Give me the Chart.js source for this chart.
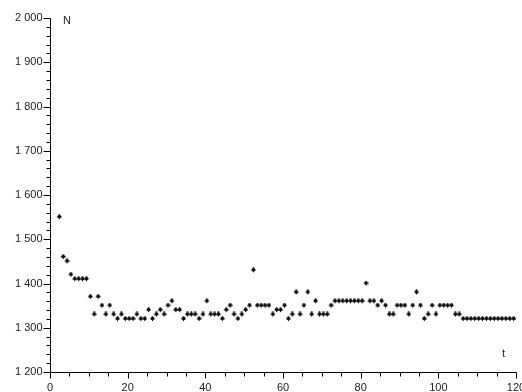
<!DOCTYPE html>
<html lang="en">
<head>
  <meta charset="UTF-8">
  <title>N over t</title>
  <script src="https://cdn.jsdelivr.net/npm/chart.js"></script>
  <style>
    html, body { margin: 0; padding: 0; background: #fff; }
    #wrap { width: 522px; height: 392px; }
  </style>
</head>
<body>
  <div id="wrap"><canvas id="nChart" width="522" height="392"></canvas></div>

  <script>
    // t runs 2..120, one reading per step
    const tValues = [];
    for (let t = 2; t <= 120; t++) tValues.push(t);

    const nValues = [
      1550, 1460, 1450, 1420, 1410, 1410, 1410, 1410, 1370, 1330,
      1370, 1350, 1330, 1350, 1330, 1320, 1330, 1320, 1320, 1320,
      1330, 1320, 1320, 1340, 1320, 1330, 1340, 1330, 1350, 1360,
      1340, 1340, 1320, 1330, 1330, 1330, 1320, 1330, 1360, 1330,
      1330, 1330, 1320, 1340, 1350, 1330, 1320, 1330, 1340, 1350,
      1430, 1350, 1350, 1350, 1350, 1330, 1340, 1340, 1350, 1320,
      1330, 1380, 1330, 1350, 1380, 1330, 1360, 1330, 1330, 1330,
      1350, 1360, 1360, 1360, 1360, 1360, 1360, 1360, 1360, 1400,
      1360, 1360, 1350, 1360, 1350, 1330, 1330, 1350, 1350, 1350,
      1330, 1350, 1380, 1350, 1320, 1330, 1350, 1330, 1350, 1350,
      1350, 1350, 1330, 1330, 1320, 1320, 1320, 1320, 1320, 1320,
      1320, 1320, 1320, 1320, 1320, 1320, 1320, 1320, 1320
    ];

    const xMajorTicks = [0, 20, 40, 60, 80, 100, 120];
    const yMajorTicks = [1200, 1300, 1400, 1500, 1600, 1700, 1800, 1900, 2000];
    const xMinorStep = 5;
    const yMinorStep = 20;

    // little club-shaped marker like the original plot
    const marker = document.createElement('canvas');
    marker.width = 8; marker.height = 6;
    (function () {
      const c = marker.getContext('2d');
      c.fillStyle = '#000';
      const cx = 5.5;
      c.beginPath(); c.arc(cx, 1.4, 1.2, 0, Math.PI * 2); c.fill();
      c.beginPath(); c.arc(cx - 1.1, 2.8, 1.1, 0, Math.PI * 2); c.fill();
      c.beginPath(); c.arc(cx + 1.1, 2.8, 1.1, 0, Math.PI * 2); c.fill();
      c.fillRect(cx - 0.5, 2.5, 1, 2.6);
    })();

    const fmt = v => {
      const s = String(v);
      return s.length > 3 ? s.slice(0, s.length - 3) + ' ' + s.slice(-3) : s;
    };

    const axesPlugin = {
      id: 'axesPlugin',
      afterDraw(chart) {
        const ctx = chart.ctx;
        const xs = chart.scales.x, ys = chart.scales.y;
        const x0 = Math.round(xs.getPixelForValue(0)) + 0.5;
        const yb = Math.round(ys.getPixelForValue(1200)) + 0.5;
        const yt = Math.round(ys.getPixelForValue(2000)) + 0.5;
        const xr = Math.round(xs.getPixelForValue(120)) + 0.5;

        ctx.save();
        ctx.strokeStyle = '#000';
        ctx.lineWidth = 1;
        ctx.beginPath();
        ctx.moveTo(x0, yt); ctx.lineTo(x0, yb);
        ctx.moveTo(x0, yb); ctx.lineTo(xr, yb);

        for (let v = 1200; v <= 2000; v += yMinorStep) {
          const y = Math.round(ys.getPixelForValue(v)) + 0.5;
          const len = v % 100 === 0 ? 7 : 4;
          ctx.moveTo(x0 - len, y); ctx.lineTo(x0, y);
        }
        for (let v = 0; v <= 120; v += xMinorStep) {
          const x = Math.round(xs.getPixelForValue(v)) + 0.5;
          const len = v % 20 === 0 ? 6 : 4;
          ctx.moveTo(x, yb); ctx.lineTo(x, yb + len);
        }
        ctx.stroke();

        ctx.fillStyle = '#222';
        ctx.font = '11px "Liberation Sans", Arial, sans-serif';
        ctx.textAlign = 'right';
        ctx.textBaseline = 'middle';
        yMajorTicks.forEach(v => {
          ctx.fillText(fmt(v), x0 - 8, ys.getPixelForValue(v));
        });
        ctx.textAlign = 'center';
        ctx.textBaseline = 'top';
        xMajorTicks.forEach(v => {
          ctx.fillText(fmt(v), xs.getPixelForValue(v), yb + 10);
        });

        ctx.textAlign = 'left';
        ctx.textBaseline = 'middle';
        ctx.fillText('N', 63, 21);
        ctx.fillText('t', 502, 354);
        ctx.restore();
      }
    };

    new Chart(document.getElementById('nChart'), {
      type: 'scatter',
      data: {
        datasets: [{
          label: 'N',
          data: tValues.map((t, i) => ({ x: t, y: nValues[i] })),
          pointStyle: marker,
          pointRadius: 3,
          pointHoverRadius: 3,
          showLine: false
        }]
      },
      options: {
        responsive: false,
        animation: false,
        events: [],
        layout: { padding: { left: 50, right: 6, top: 18, bottom: 20 } },
        plugins: { legend: { display: false }, tooltip: { enabled: false } },
        scales: {
          x: { type: 'linear', min: 0, max: 120, display: false },
          y: { type: 'linear', min: 1200, max: 2000, display: false }
        }
      },
      plugins: [axesPlugin]
    });
  </script>
</body>
</html>
